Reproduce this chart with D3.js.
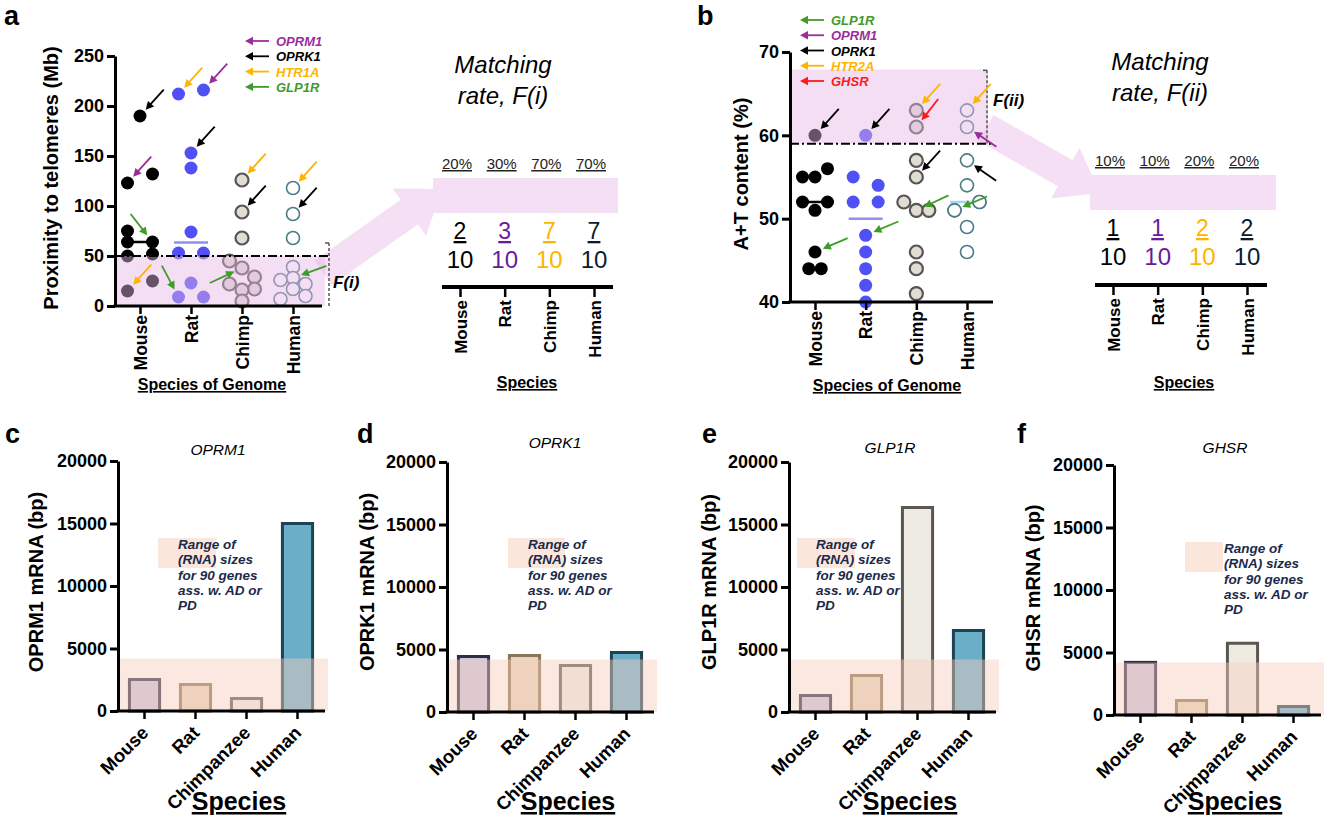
<!DOCTYPE html>
<html>
<head>
<meta charset="utf-8">
<script src="https://cdn.jsdelivr.net/npm/d3@7"></script>
<style>
  body { margin: 0; background: #fff; }
  svg { font-family: "Liberation Sans", Arial, sans-serif; }
</style>
</head>
<body>
<svg id="fig" width="1325" height="822"></svg>
<script>
// species names
var species = ["Mouse", "Rat", "Chimp", "Human"];
var speciesFull = ["Mouse", "Rat", "Chimpanzee", "Human"];

// a: proximity to telomeres (Mb), 10 genes per genome
var telMouse = [190, 132, 123, 75, 64, 64, 52, 50, 25, 15];
var telRat = [216, 212, 153, 138, 74, 53, 53, 23, 9, 9];
var telChimp = [126, 94, 68, 45, 38, 29, 22, 17, 16, 5];
var telHuman = [118, 92, 68, 39, 28, 26, 22, 17, 10, 7];
// column of each dot inside its species (-1 left, 0 middle, 1 right)
var telMouseCol = [0, 1, -1, -1, -1, 1, 1, -1, 1, -1];
var telRatCol = [1, -1, 0, 0, 0, -1, 1, 0, -1, 1];
var telChimpCol = [0, 0, 0, -1, 0, 1, -1, 1, 0, 0];
var telHumanCol = [0, 0, 0, 0, 0, -1, 1, 0, 1, -1];
var telTicks = [0, 50, 100, 150, 200, 250];

// b: A+T content (%)
var atMouse = [60, 56, 55, 55, 52, 52, 51, 46, 44, 44];
var atRat = [60, 55, 54, 52, 52, 48, 46, 44, 42, 40];
var atChimp = [63, 61, 57, 55, 52, 51, 51, 46, 44, 41];
var atHuman = [63, 61, 57, 54, 52, 52, 51, 51, 49, 46];
var atMouseCol = [0, 1, -1, 0, -1, 1, 0, 0, -0.5, 0.5];
var atRatCol = [0, -1, 1, -1, 1, 0, 0, 0, 0, 0];
var atChimpCol = [0, 0, 0, 0, -1, 0, 1, 0, 0, 0];
var atHumanCol = [0, 0, 0, 0, 1, 1, -1, -1, 0, 0];
var atTicks = [40, 50, 60, 70];

// matching rates
var matchI = [2, 3, 7, 7];
var matchII = [1, 1, 2, 2];
var matchTotal = [10, 10, 10, 10];

// c-f: mRNA length (bp)
var oprm1Len = [2640, 2240, 1120, 15120];
var oprk1Len = [4560, 4640, 3840, 4880];
var glp1rLen = [1440, 3040, 16480, 6640];
var ghsrLen = [4330, 1280, 5860, 800];
var adpdRange = [0, 4200];
var bpTicks = [0, 5000, 10000, 15000, 20000];
var noteLines = ["Range of", "(RNA) sizes", "for 90 genes", "ass. w. AD or", "PD"];

// gene legends and pointers: species, index in list, gene, shaft angle
var legendA = ["OPRM1", "OPRK1", "HTR1A", "GLP1R"];
var legendB = ["GLP1R", "OPRM1", "OPRK1", "HTR2A", "GHSR"];
var pointA = [
  ["Mouse", 0, "OPRK1", 48], ["Mouse", 2, "OPRM1", 48], ["Mouse", 5, "GLP1R", 128], ["Mouse", 9, "HTR1A", 48],
  ["Rat", 0, "OPRM1", 48], ["Rat", 1, "HTR1A", 48], ["Rat", 2, "OPRK1", 48], ["Rat", 8, "GLP1R", 118],
  ["Chimp", 0, "HTR1A", 48], ["Chimp", 1, "OPRK1", 48], ["Chimp", 4, "GLP1R", 205],
  ["Human", 0, "HTR1A", 48], ["Human", 1, "OPRK1", 48], ["Human", 4, "GLP1R", 20]
];
var pointB = [
  ["Mouse", 0, "OPRK1", 48], ["Mouse", 7, "GLP1R", 23],
  ["Rat", 0, "OPRK1", 48], ["Rat", 5, "GLP1R", 23],
  ["Chimp", 0, "HTR2A", 48], ["Chimp", 1, "GHSR", 52], ["Chimp", 3, "OPRK1", 48], ["Chimp", 5, "GLP1R", 25],
  ["Human", 0, "HTR2A", 48], ["Human", 1, "OPRM1", -34], ["Human", 2, "OPRK1", -35], ["Human", 6, "GLP1R", 23]
];

var geneColor = { OPRM1: "#9b2d9b", OPRK1: "#000000", HTR1A: "#ffb400", HTR2A: "#ffb400", GLP1R: "#3f9c2a", GHSR: "#ff1a1a" };
var dotFill = ["#000000", "#5050f5", "#e2ddd2", "#ffffff"];
var dotStroke = ["#000000", "#5050f5", "#555555", "#4d7c88"];
var dotStrokeW = [0, 0, 2.2, 1.6];
var medianColor = ["#000000", "#8e8ef5", "#d8d2c6", "#a8d4ec"];
var fracColor = ["#000000", "#6a1b9a", "#ffb300", "#0f1a2e"];
var barFill = ["#c8c5dc", "#e8d5bf", "#eeebe3", "#6aaec8"];
var barStroke = ["#2d2d45", "#8c7556", "#5a5652", "#1d4454"];
var pink = "#f5dff5";

var svg = d3.select("#fig");

function styleAxis(sel, w) {
  sel.selectAll("path, line").attr("stroke", "#000").attr("stroke-width", w);
  sel.selectAll("text").attr("font-size", 18).attr("font-weight", "bold").attr("fill", "#000")
    .attr("font-family", "Liberation Sans, Arial, sans-serif");
}

// small arrow, tip at (tx,ty), shaft going off at angle ang
function pointer(g, tx, ty, ang, len, color) {
  var a = ang * Math.PI / 180, ux = Math.cos(a), uy = -Math.sin(a);
  var hl = 8, hw = 4.2;
  g.append("line")
    .attr("x1", tx + ux * len).attr("y1", ty + uy * len)
    .attr("x2", tx + ux * 6).attr("y2", ty + uy * 6)
    .attr("stroke", color).attr("stroke-width", 1.8);
  var bx = tx + ux * hl, by = ty + uy * hl;
  g.append("path")
    .attr("d", "M" + tx + "," + ty + "L" + (bx - uy * hw) + "," + (by + ux * hw) + "L" + (bx + uy * hw) + "," + (by - ux * hw) + "Z")
    .attr("fill", color);
}

// wide pale arrow from a shaded window to a matching box
function bigArrow(x1, y1, x2, y2, hw, hh, hl) {
  var dx = x2 - x1, dy = y2 - y1, L = Math.sqrt(dx * dx + dy * dy);
  var ux = dx / L, uy = dy / L, nx = -uy, ny = ux;
  var bx = x2 - ux * hl, by = y2 - uy * hl;
  var pts = [[x1 + nx * hw, y1 + ny * hw], [bx + nx * hw, by + ny * hw], [bx + nx * hh, by + ny * hh], [x2, y2],
    [bx - nx * hh, by - ny * hh], [bx - nx * hw, by - ny * hw], [x1 - nx * hw, y1 - ny * hw]];
  svg.append("path").attr("d", d3.line()(pts) + "Z").attr("fill", pink);
}

function dotPanel(o) {
  var g = svg.append("g");
  var y = d3.scaleLinear().domain(o.domain).range(o.yRange);
  var x = d3.scalePoint().domain(species).range(o.xRange);
  var col = d3.scaleLinear().domain([-1, 1]).range([-12.5, 12.5]);
  var y0 = y(o.domain[0]);

  species.forEach(function (s, i) {
    var m = d3.median(o.values[i]);
    g.append("line").attr("x1", x(s) - 17).attr("x2", x(s) + 17)
      .attr("y1", y(m)).attr("y2", y(m))
      .attr("stroke", medianColor[i]).attr("stroke-width", 2.5);
  });

  species.forEach(function (s, i) {
    g.selectAll(null).data(o.values[i]).enter().append("circle")
      .attr("cx", function (d, j) { return x(s) + col(o.cols[i][j]); })
      .attr("cy", function (d) { return y(d); })
      .attr("r", o.r)
      .attr("fill", dotFill[i]).attr("stroke", dotStroke[i]).attr("stroke-width", dotStrokeW[i]);
  });

  // shaded window
  g.append("rect").attr("x", o.axisX + 1).attr("width", o.regionEnd - o.axisX - 1)
    .attr("y", y(o.region[1])).attr("height", y(o.region[0]) - y(o.region[1]))
    .attr("fill", "#e6b6e6").attr("opacity", 0.45);
  g.append("line").attr("x1", o.axisX).attr("x2", o.regionEnd + 4)
    .attr("y1", y(o.cut)).attr("y2", y(o.cut))
    .attr("stroke", "#000").attr("stroke-width", 2).attr("stroke-dasharray", "9,3,2,3");
  g.append("line").attr("x1", o.sideX).attr("x2", o.sideX)
    .attr("y1", y(o.side[1])).attr("y2", y(o.side[0]))
    .attr("stroke", "#555").attr("stroke-width", 1.5).attr("stroke-dasharray", "3,2");
  g.append("line").attr("x1", o.sideX - 4).attr("x2", o.sideX)
    .attr("y1", y(o.side[1])).attr("y2", y(o.side[1]))
    .attr("stroke", "#555").attr("stroke-width", 1.5);
  g.append("text").attr("x", o.fx).attr("y", o.fy).text(o.fLabel)
    .attr("font-size", 17).attr("font-weight", "bold").attr("font-style", "italic");

  // axes
  g.append("g").attr("transform", "translate(" + o.axisX + ",0)")
    .call(d3.axisLeft(y).tickValues(o.ticks).tickSize(8).tickPadding(3).tickSizeOuter(0))
    .call(styleAxis, 3);
  g.append("g").attr("transform", "translate(0," + y0 + ")")
    .call(d3.axisBottom(x).tickSize(8).tickSizeOuter(0).tickFormat(""))
    .call(styleAxis, 2.5)
    .select(".domain").remove();
  g.append("line").attr("x1", o.axisX - 1.5).attr("x2", o.axisEnd).attr("y1", y0).attr("y2", y0)
    .attr("stroke", "#000").attr("stroke-width", 3);
  g.selectAll(null).data(species).enter().append("text")
    .attr("transform", function (d) { return "translate(" + (x(d) + 6.5) + "," + (y0 + 9) + ") rotate(-90)"; })
    .attr("text-anchor", "end").attr("font-size", 17.5).attr("font-weight", "bold").text(function (d) { return d; });
  g.append("text").attr("x", o.genomeX).attr("y", o.genomeY).attr("text-anchor", "middle")
    .attr("font-size", 16).attr("font-weight", "bold").attr("text-decoration", "underline")
    .text("Species of Genome");
  g.append("text").attr("transform", "translate(" + o.titleX + "," + o.titleY + ") rotate(-90)")
    .attr("text-anchor", "middle").attr("font-size", 20).attr("font-weight", "bold").text(o.title);
  g.append("text").attr("x", o.letterX).attr("y", 25).attr("font-size", 27).attr("font-weight", "bold").text(o.letter);

  // gene pointers
  o.pointers.forEach(function (p) {
    var i = species.indexOf(p[0]);
    var cx = x(p[0]) + col(o.cols[i][p[1]]), cy = y(o.values[i][p[1]]);
    var a = p[3] * Math.PI / 180, d = o.r + 2;
    pointer(g, cx + Math.cos(a) * d, cy - Math.sin(a) * d, p[3], 27, geneColor[p[2]]);
  });

  // legend
  o.legend.forEach(function (gene, k) {
    var ly = o.legendY + k * o.legendDy;
    pointer(g, o.legendX, ly, 0, 24, geneColor[gene]);
    g.append("text").attr("x", o.legendX + 31).attr("y", ly + 5).text(gene)
      .attr("fill", geneColor[gene]).attr("font-size", 13)
      .attr("font-weight", "bold").attr("font-style", "italic");
  });
}

function matchPanel(o) {
  var g = svg.append("g");
  var x = d3.scalePoint().domain(species).range(o.xRange);
  g.append("rect").attr("x", o.boxX).attr("width", o.boxW).attr("y", o.boxY).attr("height", 35).attr("fill", pink);
  g.append("text").attr("x", o.cx).attr("y", o.titleY).attr("text-anchor", "middle")
    .attr("font-size", 24).attr("font-style", "italic").text("Matching");
  g.append("text").attr("x", o.cx).attr("y", o.titleY + 31).attr("text-anchor", "middle")
    .attr("font-size", 24).attr("font-style", "italic").text("rate, " + o.label);

  species.forEach(function (s, i) {
    var pct = Math.round(100 * o.hits[i] / matchTotal[i]) + "%";
    g.append("text").attr("x", x(s) - 3).attr("y", o.boxY - 9).attr("text-anchor", "middle")
      .attr("font-size", 15).attr("fill", "#222").attr("text-decoration", "underline").text(pct);
    g.append("text").attr("x", x(s)).attr("y", o.boxY + 61).attr("text-anchor", "middle")
      .attr("font-size", 23).attr("fill", fracColor[i]).attr("text-decoration", "underline").text(o.hits[i]);
    g.append("text").attr("x", x(s)).attr("y", o.boxY + 90).attr("text-anchor", "middle")
      .attr("font-size", 24).attr("fill", fracColor[i]).text(matchTotal[i]);
  });

  var ya = o.axisY;
  g.append("line").attr("x1", o.axisX1).attr("x2", o.axisX2).attr("y1", ya).attr("y2", ya)
    .attr("stroke", "#000").attr("stroke-width", 4);
  g.append("g").attr("transform", "translate(0," + ya + ")")
    .call(d3.axisBottom(x).tickSize(10).tickSizeOuter(0).tickFormat(""))
    .call(styleAxis, 2.5)
    .select(".domain").remove();
  g.selectAll(null).data(species).enter().append("text")
    .attr("transform", function (d) { return "translate(" + (x(d) + 6.5) + "," + (ya + 13) + ") rotate(-90)"; })
    .attr("text-anchor", "end").attr("font-size", 17).attr("font-weight", "bold").text(function (d) { return d; });
  g.append("text").attr("x", o.cx + 24).attr("y", 388).attr("text-anchor", "middle")
    .attr("font-size", 16).attr("font-weight", "bold").attr("text-decoration", "underline").text("Species");
}

function barPanel(o) {
  var g = svg.append("g");
  var x = d3.scaleBand().domain(speciesFull).range([o.axisX + 1, o.axisX + 205])
    .paddingInner(0.35).paddingOuter(0.175);
  var y = d3.scaleLinear().domain([0, 20000]).range([o.yBottom, o.yBottom - 250]);

  g.append("rect").attr("x", o.noteX).attr("width", o.noteW).attr("y", o.noteY).attr("height", 30)
    .attr("fill", "#fbe6dc");
  noteLines.forEach(function (t, k) {
    g.append("text").attr("x", o.noteX + o.textDx).attr("y", o.noteY + 11 + k * 15.3).text(t)
      .attr("font-size", 13.5).attr("font-weight", "bold").attr("font-style", "italic").attr("fill", "#1c2a4a");
  });

  g.selectAll(null).data(o.values).enter().append("rect")
    .attr("x", function (d, i) { return x(speciesFull[i]) + 1.5; })
    .attr("width", x.bandwidth() - 3)
    .attr("y", function (d) { return y(d) + 1.5; })
    .attr("height", function (d) { return o.yBottom - y(d) - 1.5; })
    .attr("fill", function (d, i) { return barFill[i]; })
    .attr("stroke", function (d, i) { return barStroke[i]; })
    .attr("stroke-width", 3);

  // AD/PD size band
  g.append("rect").attr("x", o.axisX).attr("width", 210)
    .attr("y", y(adpdRange[1])).attr("height", y(adpdRange[0]) - y(adpdRange[1]))
    .attr("fill", "#f6cfbd").attr("opacity", 0.45);

  g.append("g").attr("transform", "translate(" + o.axisX + ",0)")
    .call(d3.axisLeft(y).tickValues(bpTicks).tickFormat(d3.format("d")).tickSize(8).tickPadding(3).tickSizeOuter(0))
    .call(styleAxis, 3);
  g.append("g").attr("transform", "translate(0," + o.yBottom + ")")
    .call(d3.axisBottom(x).tickSize(8).tickSizeOuter(0).tickFormat(""))
    .call(styleAxis, 2.5)
    .select(".domain").remove();
  g.append("line").attr("x1", o.axisX - 1.5).attr("x2", o.axisX + 207).attr("y1", o.yBottom).attr("y2", o.yBottom)
    .attr("stroke", "#000").attr("stroke-width", 3);
  g.selectAll(null).data(speciesFull).enter().append("text")
    .attr("transform", function (d) { return "translate(" + (x(d) + x.bandwidth() / 2 + 5) + "," + (o.yBottom + 23) + ") rotate(-45)"; })
    .attr("text-anchor", "end").attr("font-size", 18.5).attr("font-weight", "bold").text(function (d) { return d; });

  g.append("text").attr("x", o.axisX + 121).attr("y", 810).attr("text-anchor", "middle")
    .attr("font-size", 25).attr("font-weight", "bold").attr("text-decoration", "underline").text("Species");
  g.append("text").attr("x", o.axisX + o.titleDx).attr("y", o.titleY).attr("text-anchor", "middle")
    .attr("font-size", 15.5).attr("font-style", "italic").text(o.gene);
  g.append("text").attr("transform", "translate(" + o.ytX + "," + o.ytY + ") rotate(-90)")
    .attr("text-anchor", "middle").attr("font-size", 20).attr("font-weight", "bold").text(o.gene + " mRNA (bp)");
  g.append("text").attr("x", o.letterX).attr("y", 443).attr("font-size", 27).attr("font-weight", "bold").text(o.letter);
}

// pale arrows first, boxes and dots go on top
bigArrow(323, 273, 442, 189, 15, 29, 40);
bigArrow(986, 128, 1100, 193, 15, 29, 40);

dotPanel({
  values: [telMouse, telRat, telChimp, telHuman], cols: [telMouseCol, telRatCol, telChimpCol, telHumanCol],
  domain: [0, 250], yRange: [306, 56], xRange: [140, 293], ticks: telTicks, r: 6.5,
  axisX: 115, axisEnd: 322, region: [0, 50], regionEnd: 325, cut: 50,
  sideX: 329, side: [0, 63], fLabel: "F(i)", fx: 333, fy: 288,
  title: "Proximity to telomeres (Mb)", titleX: 58, titleY: 178, genomeX: 212, genomeY: 390, letter: "a", letterX: 4,
  pointers: pointA, legend: legendA, legendX: 245, legendY: 41, legendDy: 15.3
});

dotPanel({
  values: [atMouse, atRat, atChimp, atHuman], cols: [atMouseCol, atRatCol, atChimpCol, atHumanCol],
  domain: [40, 70], yRange: [302, 52], xRange: [815, 967], ticks: atTicks, r: 6.5,
  axisX: 790, axisEnd: 993, region: [59, 67.9], regionEnd: 988, cut: 59,
  sideX: 987, side: [59, 67.8], fLabel: "F(ii)", fx: 993, fy: 106,
  title: "A+T content (%)", titleX: 748, titleY: 174, genomeX: 887, genomeY: 391, letter: "b", letterX: 697,
  pointers: pointB, legend: legendB, legendX: 800, legendY: 20, legendDy: 15.25
});

matchPanel({ hits: matchI, label: "F(i)", xRange: [460, 594], boxX: 433, boxW: 185, boxY: 178,
  cx: 503, titleY: 73, axisY: 287, axisX1: 442, axisX2: 613 });
matchPanel({ hits: matchII, label: "F(ii)", xRange: [1113, 1247], boxX: 1090, boxW: 186, boxY: 175,
  cx: 1160, titleY: 70, axisY: 285, axisX1: 1095, axisX2: 1267 });

barPanel({ values: oprm1Len, gene: "OPRM1", axisX: 118, yBottom: 711, letter: "c", letterX: 5,
  noteX: 158, noteW: 58, noteY: 538, textDx: 20, titleDx: 100, titleY: 455, ytX: 43, ytY: 582 });
barPanel({ values: oprk1Len, gene: "OPRK1", axisX: 447, yBottom: 712, letter: "d", letterX: 357,
  noteX: 508, noteW: 57, noteY: 538, textDx: 20, titleDx: 108, titleY: 448, ytX: 374, ytY: 582 });
barPanel({ values: glp1rLen, gene: "GLP1R", axisX: 789, yBottom: 712, letter: "e", letterX: 702,
  noteX: 797, noteW: 58, noteY: 538, textDx: 19, titleDx: 101, titleY: 453, ytX: 716, ytY: 582 });
barPanel({ values: ghsrLen, gene: "GHSR", axisX: 1114, yBottom: 715, letter: "f", letterX: 1017,
  noteX: 1185, noteW: 38, noteY: 542, textDx: 39, titleDx: 111, titleY: 453, ytX: 1040, ytY: 588 });
</script>
</body>
</html>
